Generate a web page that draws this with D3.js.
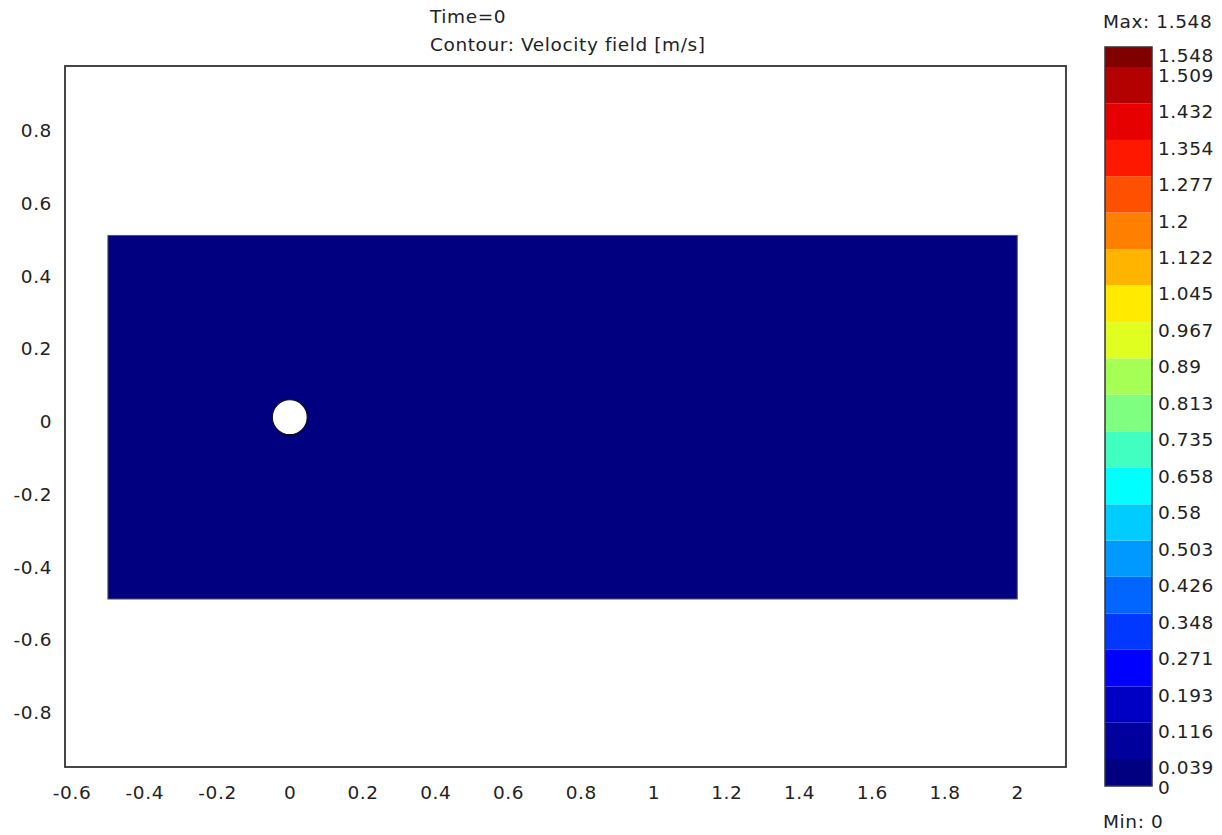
<!DOCTYPE html>
<html><head><meta charset="utf-8">
<script src="https://cdn.jsdelivr.net/npm/d3@7"></script>
<style>body{margin:0;background:#fff}svg{display:block}text{font-family:"DejaVu Sans",Verdana,sans-serif;fill:#222;letter-spacing:0.6px}</style>
</head><body><svg id="c" width="1222" height="835"></svg>
<script>
const titleLines = ["Time=0", "Contour: Velocity field [m/s]"];
const xTicks = [-0.6,-0.4,-0.2,0,0.2,0.4,0.6,0.8,1,1.2,1.4,1.6,1.8,2];
const yTicks = [-0.8,-0.6,-0.4,-0.2,0,0.2,0.4,0.6,0.8];
const xDomain = [-0.618, 2.134];
const yDomain = [-0.962, 0.966];
const channelX = [-0.5, 2];
const channelY = [-0.5, 0.5];
const cylinder = {cx: 0, cy: 0, r: 0.048};
const fieldValue = 0;               // velocity everywhere at Time=0
const levelValues = [0,0.039,0.116,0.193,0.271,0.348,0.426,0.503,0.58,0.658,0.735,0.813,0.89,0.967,1.045,1.122,1.2,1.277,1.354,1.432,1.509,1.548];
const levelLabels = ["0","0.039","0.116","0.193","0.271","0.348","0.426","0.503","0.58","0.658","0.735","0.813","0.89","0.967","1.045","1.122","1.2","1.277","1.354","1.432","1.509","1.548"];
const bandColors = ["#000080","#00009c","#0000c4","#0000ff","#0038ff","#0066ff","#0099ff","#00ccff","#00ffff","#40ffc0","#7fff80","#a6ff55","#e0ff20","#ffea00","#ffb400","#ff8000","#ff5000","#ff1800","#e60000","#b30000","#800000"];
const maxLabel = "Max: 1.548", minLabel = "Min: 0";

const svg = d3.select("#c");
const FS = 18.5;
const fmt = d => d3.format("~g")(d).replace("\u2212", "-");
const plot = {l: 65, r: 1066, t: 66, b: 767};
const x = d3.scaleLinear().domain(xDomain).range([plot.l, plot.r]);
const y = d3.scaleLinear().domain(yDomain).range([plot.b, plot.t]);

const bandIndex = v => Math.max(0, Math.min(bandColors.length-1, d3.bisectRight(levelValues, v) - 1));

// channel domain
svg.append("rect")
  .attr("x", x(channelX[0])).attr("y", y(channelY[1]))
  .attr("width", x(channelX[1]) - x(channelX[0]))
  .attr("height", y(channelY[0]) - y(channelY[1]))
  .attr("fill", bandColors[bandIndex(fieldValue)])
  .attr("stroke", "#555").attr("stroke-width", 1);
svg.append("circle")
  .attr("cx", x(cylinder.cx)).attr("cy", y(cylinder.cy))
  .attr("r", x(cylinder.r) - x(0))
  .attr("fill", "#fff").attr("stroke", "#111").attr("stroke-width", 1.2);

// frame
svg.append("rect").attr("x", plot.l).attr("y", plot.t)
  .attr("width", plot.r - plot.l).attr("height", plot.b - plot.t)
  .attr("fill", "none").attr("stroke", "#333").attr("stroke-width", 1.8);

// axes labels (no tick marks)
const xa = d3.axisBottom(x).tickValues(xTicks).tickSize(0).tickPadding(0).tickFormat(fmt);
const gx = svg.append("g").attr("transform", `translate(0,${plot.b})`).call(xa);
gx.select(".domain").remove();
gx.selectAll("text").attr("y", 26).attr("dy", "0.35em").attr("font-size", FS).attr("font-family", "DejaVu Sans").attr("fill", "#222");

const ya = d3.axisLeft(y).tickValues(yTicks).tickSize(0).tickPadding(0).tickFormat(fmt);
const gy = svg.append("g").attr("transform", `translate(52,0)`).call(ya);
gy.select(".domain").remove();
gy.selectAll("text").attr("x", 0).attr("dy", "0.35em").attr("y", 4).attr("font-size", FS).attr("font-family", "DejaVu Sans").attr("fill", "#222");

// title
svg.selectAll("text.title").data(titleLines).join("text").attr("class", "title")
  .attr("x", 430).attr("y", (d, i) => 17 + i * 28).attr("dy", "0.35em")
  .attr("font-size", FS).text(d => d);

// colour bar
const cb = {l: 1105, r: 1152, t: 47, b: 786};
const n = levelValues.length;
const cy = d3.scaleLinear()
  .domain([levelValues[0], levelValues[1], levelValues[n-2], levelValues[n-1]])
  .range([cb.b, cb.b - 27, cb.t + 20, cb.t]);
svg.selectAll("rect.band").data(bandColors).join("rect").attr("class", "band")
  .attr("x", cb.l).attr("width", cb.r - cb.l)
  .attr("y", (d, i) => cy(levelValues[i+1]))
  .attr("height", (d, i) => cy(levelValues[i]) - cy(levelValues[i+1]))
  .attr("fill", d => d);
svg.append("rect").attr("x", cb.l).attr("y", cb.t).attr("width", cb.r - cb.l).attr("height", cb.b - cb.t)
  .attr("fill", "none").attr("stroke", "#333").attr("stroke-width", 1.5);
svg.selectAll("text.lev").data(levelValues).join("text").attr("class", "lev")
  .attr("x", cb.r + 6)
  .attr("y", (d, i) => Math.min(cy(d) + 1, cb.b - 6))
  .attr("dy", "0.76em")
  .attr("font-size", FS).text((d, i) => levelLabels[i]);
svg.append("text").attr("x", 1103).attr("y", 22).attr("dy", "0.35em").attr("font-size", FS).text(maxLabel);
svg.append("text").attr("x", 1103).attr("y", 822).attr("dy", "0.35em").attr("font-size", FS).text(minLabel);
</script></body></html>
